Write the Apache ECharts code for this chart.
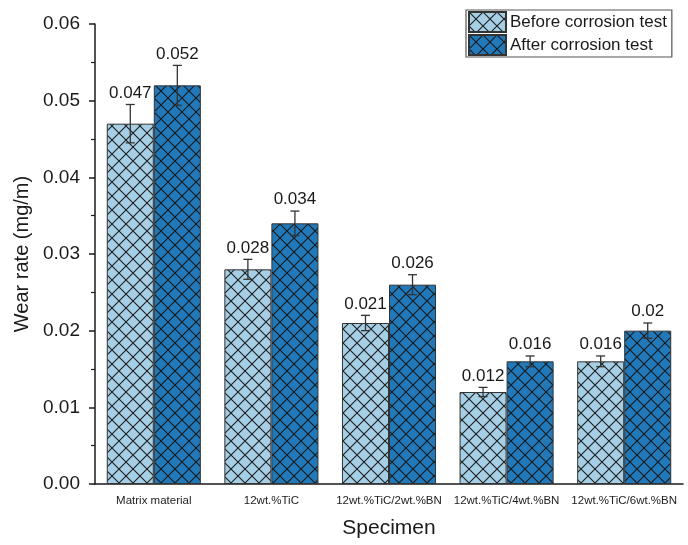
<!DOCTYPE html>
<html>
<head>
<meta charset="utf-8">
<script src="https://cdn.jsdelivr.net/npm/echarts@6/dist/echarts.min.js"></script>
<style>
  html, body { margin: 0; padding: 0; background: #fff; }
  #chart { width: 688px; height: 545px; }
</style>
</head>
<body>
<div id="chart"></div>
<script>
// Wear rate of each specimen, before and after the corrosion test
const categories = ['Matrix material', '12wt.%TiC', '12wt.%TiC/2wt.%BN', '12wt.%TiC/4wt.%BN', '12wt.%TiC/6wt.%BN'];
const beforeValues = [0.047, 0.028, 0.021, 0.012, 0.016];
const afterValues = [0.052, 0.034, 0.026, 0.016, 0.02];
const beforeErrors = [0.0025, 0.0013, 0.0010, 0.0006, 0.0007];
const afterErrors = [0.0026, 0.0016, 0.0013, 0.0007, 0.0010];
const seriesNames = ['Before corrosion test', 'After corrosion test'];

const FONT = 'Arial, "Liberation Sans", sans-serif';

// Cross-hatched fill: a solid colour with two diagonal line families
function hatch(fill) {
  const s = 14;
  const c = document.createElement('canvas');
  c.width = s; c.height = s;
  const g = c.getContext('2d');
  g.fillStyle = fill;
  g.fillRect(0, 0, s, s);
  g.strokeStyle = 'rgba(20,20,20,0.95)';
  g.lineWidth = 1.1;
  g.beginPath();
  g.moveTo(-1, -1); g.lineTo(s + 1, s + 1);
  g.moveTo(s + 1, -1); g.lineTo(-1, s + 1);
  g.stroke();
  return c;
}

const lightFill = { image: hatch('#a6cfe5'), repeat: 'repeat' };
const darkFill = { image: hatch('#2179b9'), repeat: 'repeat' };

// Error bars plus value labels, drawn beside each bar of the pair
function errorSeries(name, values, errors, side) {
  return {
    name: name,
    type: 'custom',
    z: 5,
    data: values.map((v, i) => [i, v, errors[i]]),
    renderItem: function (params, api) {
      const idx = api.value(0);
      const v = api.value(1);
      const e = api.value(2);
      const band = api.size([1, 0])[0];
      const bw = band * 0.4;
      const center = api.coord([idx, v]);
      const x = center[0] + side * bw / 2;
      const top = api.coord([idx, v + e])[1];
      const bot = api.coord([idx, v - e])[1];
      const cap = 4.5;
      const ls = { stroke: '#333', lineWidth: 1.3 };
      return {
        type: 'group',
        children: [
          { type: 'line', shape: { x1: x, y1: top, x2: x, y2: bot }, style: ls },
          { type: 'line', shape: { x1: x - cap, y1: top, x2: x + cap, y2: top }, style: ls },
          { type: 'line', shape: { x1: x - cap, y1: bot, x2: x + cap, y2: bot }, style: ls },
          {
            type: 'text',
            style: {
              text: String(v),
              x: x, y: top - 3,
              align: 'center', verticalAlign: 'bottom',
              fontSize: 17, fontFamily: FONT, fill: '#1a1a1a'
            }
          }
        ]
      };
    }
  };
}

const chart = echarts.init(document.getElementById('chart'), null, { renderer: 'canvas' });

chart.setOption({
  animation: false,
  backgroundColor: '#fff',
  textStyle: { fontFamily: FONT },
  grid: { left: 95, right: 5, top: 24, bottom: 61 },
  legend: {
    data: seriesNames,
    icon: 'rect',
    orient: 'vertical',
    left: 466,
    top: 10,
    itemWidth: 37,
    itemHeight: 20,
    itemGap: 1,
    padding: [1, 5, 1, 2],
    borderColor: '#555',
    borderWidth: 1.2,
    textStyle: { fontSize: 17, color: '#1a1a1a', fontFamily: FONT, padding: [0, 0, 0, -1] }
  },
  xAxis: [
    {
      type: 'category',
      data: categories,
      name: 'Specimen',
      nameLocation: 'middle',
      nameGap: 34,
      nameTextStyle: { fontSize: 21, color: '#1a1a1a' },
      axisLine: { lineStyle: { color: '#1a1a1a', width: 1.5 } },
      axisTick: { alignWithLabel: true, length: 8, lineStyle: { color: '#1a1a1a', width: 1.5 } },
      axisLabel: { fontSize: 11.5, color: '#222', margin: 11, interval: 0 }
    },
    {
      type: 'category',
      data: categories,
      position: 'bottom',
      axisLine: { show: false },
      axisTick: { inside: true, length: 4, lineStyle: { color: '#1a1a1a', width: 1.2 } },
      axisLabel: { show: false }
    }
  ],
  yAxis: {
    type: 'value',
    min: 0,
    max: 0.06,
    interval: 0.01,
    name: 'Wear rate (mg/m)',
    nameLocation: 'middle',
    nameGap: 62,
    nameTextStyle: { fontSize: 20, color: '#1a1a1a' },
    axisLine: { show: true, lineStyle: { color: '#1a1a1a', width: 1.5 } },
    axisTick: { show: true, length: 6, lineStyle: { color: '#1a1a1a', width: 1.5 } },
    minorTick: { show: true, splitNumber: 2, length: 4, lineStyle: { color: '#1a1a1a', width: 1.2 } },
    splitLine: { show: false },
    axisLabel: {
      fontSize: 19, color: '#1a1a1a', margin: 15,
      formatter: v => v.toFixed(2)
    }
  },
  series: [
    {
      name: seriesNames[0],
      type: 'bar',
      data: beforeValues,
      barGap: '0%',
      barCategoryGap: '20%',
      itemStyle: { color: lightFill, borderColor: '#333', borderWidth: 1 }
    },
    {
      name: seriesNames[1],
      type: 'bar',
      data: afterValues,
      itemStyle: { color: darkFill, borderColor: '#333', borderWidth: 1 }
    },
    errorSeries('before-error', beforeValues, beforeErrors, -1),
    errorSeries('after-error', afterValues, afterErrors, 1)
  ]
});
</script>
</body>
</html>
